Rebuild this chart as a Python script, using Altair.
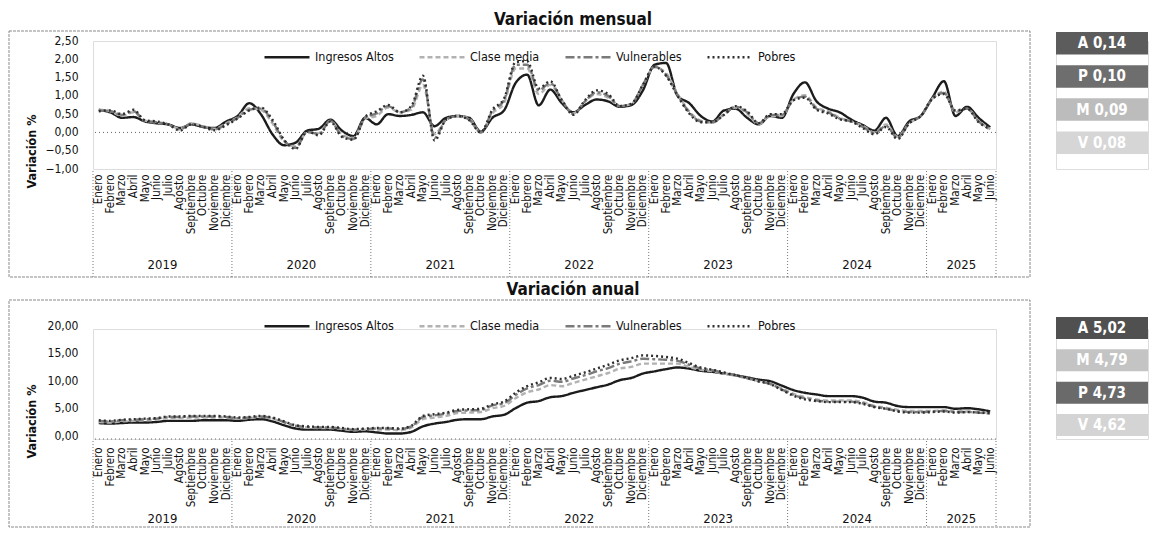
import altair as alt
import pandas as pd

FONT = "Liberation Sans Narrow, DejaVu Sans Condensed, Roboto, sans-serif"

meses = ["Enero", "Febrero", "Marzo", "Abril", "Mayo", "Junio", "Julio",
         "Agosto", "Septiembre", "Octubre", "Noviembre", "Diciembre"]
anios = ["2019", "2020", "2021", "2022", "2023", "2024", "2025"]
series = ["Ingresos Altos", "Clase media", "Vulnerables", "Pobres"]

# ---- Variación mensual (%) Ene-2019 .. Jun-2025 ----
mensual_altos = [
    0.62, 0.55, 0.40, 0.42, 0.30, 0.25, 0.22, 0.12, 0.22, 0.15, 0.12, 0.30,
    0.45, 0.80, 0.50, -0.05, -0.35, -0.28, 0.05, 0.10, 0.35, 0.05, -0.10, 0.40,
    0.22, 0.50, 0.45, 0.48, 0.55, 0.17, 0.40, 0.45, 0.40, 0.02, 0.40, 0.60,
    1.35, 1.58, 0.74, 1.17, 0.80, 0.55, 0.75, 0.90, 0.85, 0.70, 0.75, 1.15,
    1.85, 1.90, 1.00, 0.80, 0.45, 0.30, 0.60, 0.65, 0.40, 0.22, 0.45, 0.40,
    1.05, 1.37, 0.85, 0.65, 0.55, 0.35, 0.20, 0.05, 0.40, -0.10, 0.30, 0.45,
    0.95, 1.40, 0.45, 0.70, 0.40, 0.14]
mensual_media = [
    0.62, 0.58, 0.45, 0.55, 0.32, 0.27, 0.22, 0.10, 0.25, 0.17, 0.10, 0.25,
    0.42, 0.66, 0.62, 0.25, -0.25, -0.38, 0.00, -0.02, 0.32, -0.05, -0.15, 0.38,
    0.45, 0.68, 0.55, 0.62, 1.30, -0.05, 0.35, 0.45, 0.38, 0.00, 0.52, 0.80,
    1.75, 1.75, 1.05, 1.30, 0.88, 0.52, 0.85, 1.05, 0.95, 0.72, 0.78, 1.30,
    1.78, 1.62, 1.05, 0.58, 0.32, 0.27, 0.50, 0.68, 0.52, 0.22, 0.45, 0.45,
    0.90, 1.02, 0.68, 0.58, 0.40, 0.30, 0.18, 0.00, 0.22, -0.12, 0.25, 0.45,
    0.92, 1.12, 0.55, 0.65, 0.32, 0.09]
mensual_vulnerables = [
    0.60, 0.58, 0.48, 0.58, 0.32, 0.28, 0.22, 0.08, 0.24, 0.16, 0.08, 0.22,
    0.40, 0.62, 0.65, 0.30, -0.22, -0.42, 0.02, -0.05, 0.32, -0.10, -0.18, 0.40,
    0.52, 0.72, 0.55, 0.68, 1.45, -0.15, 0.35, 0.45, 0.35, 0.00, 0.58, 0.88,
    1.85, 1.85, 1.15, 1.35, 0.88, 0.50, 0.85, 1.10, 1.00, 0.72, 0.78, 1.30,
    1.80, 1.58, 1.02, 0.55, 0.30, 0.28, 0.48, 0.70, 0.55, 0.25, 0.48, 0.48,
    0.88, 0.98, 0.65, 0.55, 0.38, 0.30, 0.15, -0.02, 0.18, -0.15, 0.25, 0.45,
    0.92, 1.08, 0.58, 0.65, 0.30, 0.08]
mensual_pobres = [
    0.58, 0.60, 0.50, 0.62, 0.33, 0.30, 0.22, 0.05, 0.22, 0.15, 0.06, 0.20,
    0.38, 0.60, 0.68, 0.35, -0.20, -0.45, 0.03, -0.08, 0.30, -0.12, -0.20, 0.42,
    0.58, 0.75, 0.55, 0.72, 1.55, -0.22, 0.35, 0.45, 0.33, 0.00, 0.62, 0.92,
    1.92, 1.95, 1.20, 1.40, 0.88, 0.48, 0.88, 1.15, 1.05, 0.72, 0.78, 1.30,
    1.80, 1.55, 1.00, 0.52, 0.28, 0.28, 0.48, 0.72, 0.58, 0.25, 0.50, 0.50,
    0.88, 0.95, 0.62, 0.52, 0.36, 0.30, 0.12, -0.05, 0.15, -0.18, 0.25, 0.45,
    0.92, 1.05, 0.60, 0.65, 0.28, 0.10]

# ---- Variación anual (%) ----
anual_altos = [
    2.9, 2.8, 2.9, 3.0, 3.0, 3.1, 3.3, 3.3, 3.3, 3.4, 3.4, 3.4,
    3.3, 3.5, 3.6, 3.2, 2.5, 1.9, 1.7, 1.7, 1.7, 1.5, 1.3, 1.4,
    1.2, 1.0, 1.0, 1.3, 2.3, 2.8, 3.1, 3.5, 3.6, 3.6, 4.1, 4.4,
    5.6, 6.6, 6.9, 7.6, 7.8, 8.4, 8.9, 9.4, 9.9, 10.7, 11.1, 11.9,
    12.3, 12.7, 13.0, 12.8, 12.4, 12.2, 11.9, 11.6, 11.2, 10.8, 10.5, 9.7,
    8.9, 8.4, 8.1, 7.8, 7.8, 7.8, 7.5, 6.8, 6.6, 6.0, 5.8, 5.8,
    5.8, 5.8, 5.5, 5.6, 5.4, 5.02]
anual_media = [
    3.1, 3.0, 3.2, 3.3, 3.4, 3.5, 3.8, 3.8, 3.9, 3.9, 3.9, 3.9,
    3.7, 3.8, 4.0, 3.7, 3.0, 2.3, 2.1, 2.0, 2.0, 1.8, 1.6, 1.7,
    1.7, 1.7, 1.6, 2.1, 3.6, 3.9, 4.2, 4.7, 4.8, 4.9, 5.6, 6.0,
    7.4, 8.5, 9.0, 9.8, 9.6, 10.2, 10.8, 11.4, 12.0, 12.8, 13.1, 13.7,
    13.7, 13.7, 13.7, 13.1, 12.6, 12.3, 11.9, 11.5, 11.0, 10.5, 10.1, 9.2,
    8.2, 7.6, 7.2, 7.0, 7.0, 7.0, 6.7, 6.0, 5.7, 5.3, 5.1, 5.1,
    5.1, 5.2, 5.0, 5.0, 4.9, 4.79]
anual_vulnerables = [
    3.3, 3.2, 3.4, 3.5, 3.6, 3.7, 4.0, 4.0, 4.1, 4.1, 4.1, 4.0,
    3.8, 3.9, 4.1, 3.8, 3.1, 2.4, 2.2, 2.1, 2.1, 1.9, 1.7, 1.8,
    1.9, 1.9, 1.8, 2.3, 4.0, 4.3, 4.6, 5.1, 5.2, 5.3, 6.1, 6.5,
    8.0, 9.2, 9.8, 10.6, 10.4, 11.0, 11.6, 12.3, 12.9, 13.7, 14.1, 14.6,
    14.5, 14.4, 14.2, 13.5, 12.8, 12.5, 12.0, 11.6, 11.1, 10.5, 10.0, 9.0,
    8.0, 7.4, 7.0, 6.8, 6.8, 6.8, 6.5, 5.9, 5.5, 5.1, 4.9, 4.9,
    5.0, 5.1, 4.9, 4.9, 4.8, 4.62]
anual_pobres = [
    3.4, 3.3, 3.5, 3.6, 3.7, 3.8, 4.1, 4.1, 4.2, 4.2, 4.2, 4.1,
    3.9, 4.0, 4.2, 3.9, 3.2, 2.5, 2.3, 2.2, 2.2, 2.0, 1.8, 1.9,
    2.0, 2.0, 1.9, 2.4, 4.2, 4.5, 4.8, 5.3, 5.4, 5.5, 6.3, 6.8,
    8.4, 9.6, 10.3, 11.1, 10.9, 11.5, 12.1, 12.8, 13.5, 14.3, 14.7, 15.2,
    15.1, 14.9, 14.6, 13.8, 13.0, 12.6, 12.1, 11.6, 11.1, 10.5, 10.0, 8.9,
    7.9, 7.2, 6.9, 6.7, 6.7, 6.7, 6.4, 5.8, 5.5, 5.0, 4.8, 4.8,
    4.9, 5.0, 4.8, 4.9, 4.8, 4.73]

cajas_mensual = ["A 0,14", "P 0,10", "M 0,09", "V 0,08"]
cajas_anual = ["A 5,02", "M 4,79", "P 4,73", "V 4,62"]

# ---- styles ----
colores = ["#1c1c1c", "#b2b2b2", "#7a7a7a", "#2e2e2e"]
trazos = [[1, 0], [5, 3], [9, 3, 3, 3], [2, 3]]
color_cajas_mensual = ["#5c5c5c", "#6e6e6e", "#bcbcbc", "#d6d6d6"]
color_cajas_anual = ["#505050", "#c4c4c4", "#6a6a6a", "#d4d4d4"]

n = len(mensual_altos)
W = 903


def tabla(listas):
    rows = []
    for s, vals in zip(series, listas):
        for i, v in enumerate(vals):
            rows.append({"idx": i, "serie": s, "valor": v})
    return pd.DataFrame(rows)


df_m = tabla([mensual_altos, mensual_media, mensual_vulnerables, mensual_pobres])
df_a = tabla([anual_altos, anual_media, anual_vulnerables, anual_pobres])

anio_df = pd.DataFrame({
    "anio": anios,
    "mid": [(12 * k + min(12 * k + 11, n - 1)) / 2 for k in range(len(anios))],
})
sep_df = pd.DataFrame({"s": [12 * k - 0.5 for k in range(len(anios))] + [n - 0.5]})

label_expr = "[" + ",".join(f"'{m}'" for m in meses) + "][datum.value % 12]"


def panel(df, titulo, ydom, yvals, h, ytitle_y, legend_y, frame_top, frame_bottom,
          sep_top, year_y, title_y, lab_pad, ylab_off):
    xscale = alt.Scale(domain=[-0.5, n - 0.5], nice=False, zero=False)
    xaxis = alt.Axis(values=list(range(n)), labelExpr=label_expr, labelAngle=-90,
                     labelFontSize=11.5, labelPadding=lab_pad, ticks=False, domain=False,
                     grid=False, title=None, labelOverlap=False, labelFlush=False,
                     labelBound=False, labelColor="#111")
    yscale = alt.Scale(domain=ydom, nice=False, zero=False)
    yaxis = alt.Axis(values=yvals,
                     labelExpr="replace(format(datum.value, '.2f'), '.', ',')",
                     ticks=False, domain=False, grid=False, title="Variación %",
                     titleX=-62, titleY=ytitle_y, titleAngle=270, titleAlign="center",
                     titleBaseline="middle", titleFontSize=12.5, titleFontWeight="bold",
                     titleColor="#111", labelPadding=15, labelFontSize=12,
                     labelColor="#111", labelOffset=ylab_off)
    leg = alt.Legend(orient="none", legendX=170, legendY=legend_y, direction="horizontal",
                     title=None, symbolType="stroke", symbolSize=2025,
                     symbolStrokeWidth=2.5, labelFontSize=12.5, labelColor="#111",
                     labelOffset=4, columnPadding=20, padding=0)

    frame = alt.Chart(pd.DataFrame({"k": [0]})).mark_rect(
        fill="transparent", stroke="#8a8a8a", strokeWidth=1, strokeDash=[3, 1]
    ).encode(x=alt.value(-84), x2=alt.value(937), y=alt.value(frame_top),
             y2=alt.value(frame_bottom))

    cero = alt.Chart(pd.DataFrame({"v": [0]})).mark_rule(
        strokeDash=[1, 3], color="#666", strokeWidth=1
    ).encode(y=alt.Y("v:Q", scale=yscale, axis=yaxis))

    seps = alt.Chart(sep_df).mark_rule(strokeDash=[1, 2], color="#777", strokeWidth=1).encode(
        x=alt.X("s:Q", scale=xscale, axis=xaxis),
        y=alt.value(sep_top), y2=alt.value(frame_bottom))

    lines = alt.Chart(df).mark_line(strokeWidth=2.4, interpolate="monotone").encode(
        x=alt.X("idx:Q", scale=xscale, axis=xaxis),
        y=alt.Y("valor:Q", scale=yscale, axis=yaxis),
        color=alt.Color("serie:N", scale=alt.Scale(domain=series, range=colores), legend=leg),
        strokeDash=alt.StrokeDash("serie:N", scale=alt.Scale(domain=series, range=trazos),
                                  legend=leg),
    )

    yrs = alt.Chart(anio_df).mark_text(fontSize=13, color="#111").encode(
        x=alt.X("mid:Q", scale=xscale, axis=xaxis), y=alt.value(year_y), text="anio:N")

    tit = alt.Chart(pd.DataFrame({"t": [titulo]})).mark_text(
        fontSize=17, fontWeight="bold", baseline="alphabetic", color="#111"
    ).encode(x=alt.value(480), y=alt.value(title_y), text="t:N")

    return alt.layer(frame, cero, seps, lines, yrs, tit).properties(width=W, height=h)


def cajas(labels, fills, rng, h):
    d = pd.DataFrame({"lab": labels})
    base = alt.Chart(d).encode(
        y=alt.Y("lab:N", sort=None, axis=None,
                scale=alt.Scale(range=rng, paddingInner=0.32, paddingOuter=0)))
    rect = base.mark_rect().encode(
        x=alt.value(0), x2=alt.value(92),
        fill=alt.Fill("lab:N", scale=alt.Scale(domain=labels, range=fills), legend=None))
    txt = base.mark_text(fontSize=15, fontWeight="bold", color="white").encode(
        x=alt.value(46), text="lab:N")
    return alt.layer(rect, txt).properties(width=92, height=h)


p1 = panel(df_m, "Variación mensual", [-1, 2.5], [-1, -0.5, 0, 0.5, 1, 1.5, 2, 2.5], 128,
           ytitle_y=110, legend_y=-8, frame_top=-10, frame_bottom=236, sep_top=130,
           year_y=224, title_y=-16, lab_pad=5, ylab_off=-1)
p2 = panel(df_a, "Variación anual", [0, 20], [0, 5, 10, 15, 20], 110,
           ytitle_y=92, legend_y=-27, frame_top=-29, frame_bottom=198, sep_top=112,
           year_y=190, title_y=-34, lab_pad=8, ylab_off=-4)

c1 = cajas(cajas_mensual, color_cajas_mensual, [-9, 113], 128)
c2 = cajas(cajas_anual, color_cajas_anual, [-12, 107], 110)

chart = alt.concat(p1, c1, p2, c2, columns=2, spacing={"row": 160, "column": 60},
                   bounds="flush").resolve_scale(
    color="independent", strokeDash="independent", fill="independent"
).resolve_legend(
    color="independent", strokeDash="independent"
).properties(
    padding={"left": 0, "top": 2, "right": 0, "bottom": 0}
).configure_view(stroke=None).configure(font=FONT)

chart.save("out.html", embed_options={"renderer": "svg", "actions": False})
